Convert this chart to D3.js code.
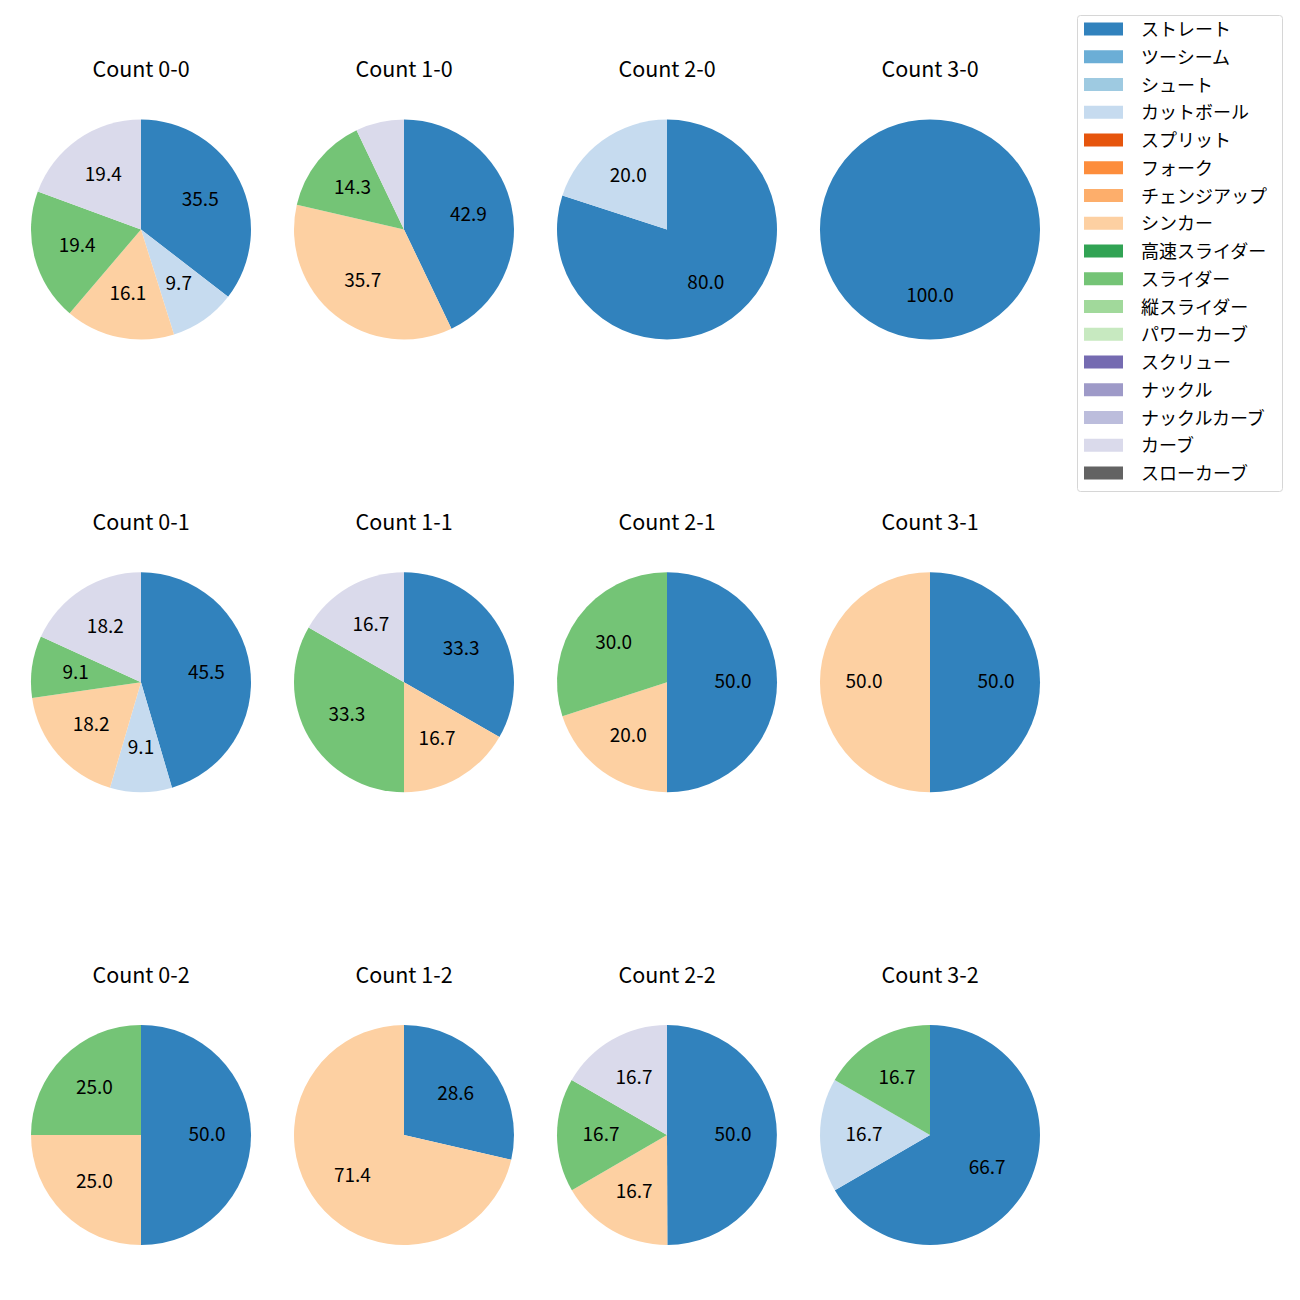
<!DOCTYPE html>
<html>
<head>
<meta charset="utf-8">
<script src="https://cdn.jsdelivr.net/npm/d3@7"></script>
<style>
  html, body { margin: 0; padding: 0; background: #fff; }
  svg text { font-family: "Noto Sans CJK JP", "Noto Sans", sans-serif; }
</style>
</head>
<body>
<svg id="chart" width="1300" height="1300"></svg>
<script>
// Pitch types (legend order) and their colours
const pitchTypes = ["ストレート","ツーシーム","シュート","カットボール","スプリット","フォーク","チェンジアップ","シンカー","高速スライダー","スライダー","縦スライダー","パワーカーブ","スクリュー","ナックル","ナックルカーブ","カーブ","スローカーブ"];
const pitchColors = ["#3182bd","#6baed6","#9ecae1","#c6dbef","#e6550d","#fd8d3c","#fdae6b","#fdd0a2","#31a354","#74c476","#a1d99b","#c7e9c0","#756bb1","#9e9ac8","#bcbddc","#dadaeb","#636363"];

// Ball-strike counts in grid order (row = strikes, col = balls)
const countLabels = ["0-0","1-0","2-0","3-0","0-1","1-1","2-1","3-1","0-2","1-2","2-2","3-2"];

// Percent share per count: [pitch type, percent]
const count00 = [["ストレート",35.5],["カットボール",9.7],["シンカー",16.1],["スライダー",19.4],["カーブ",19.4]];
const count10 = [["ストレート",42.9],["シンカー",35.7],["スライダー",14.3],["カーブ",7.1]];
const count20 = [["ストレート",80.0],["カットボール",20.0]];
const count30 = [["ストレート",100.0]];
const count01 = [["ストレート",45.5],["カットボール",9.1],["シンカー",18.2],["スライダー",9.1],["カーブ",18.2]];
const count11 = [["ストレート",33.3],["シンカー",16.7],["スライダー",33.3],["カーブ",16.7]];
const count21 = [["ストレート",50.0],["シンカー",20.0],["スライダー",30.0]];
const count31 = [["ストレート",50.0],["シンカー",50.0]];
const count02 = [["ストレート",50.0],["シンカー",25.0],["スライダー",25.0]];
const count12 = [["ストレート",28.6],["シンカー",71.4]];
const count22 = [["ストレート",50.0],["シンカー",16.7],["スライダー",16.7],["カーブ",16.7]];
const count32 = [["ストレート",66.7],["カットボール",16.7],["スライダー",16.7]];

const countData = [count00,count10,count20,count30,count01,count11,count21,count31,count02,count12,count22,count32];

const svg = d3.select("#chart");
const color = d3.scaleOrdinal().domain(pitchTypes).range(pitchColors);

const colX = d3.scalePoint().domain([0,1,2,3]).range([141, 930]);
const rowY = d3.scalePoint().domain([0,1,2]).range([229.5, 1135]);
const R = 110;

const pie = d3.pie().sort(null).value(d => d[1]);
const arc = d3.arc().innerRadius(0).outerRadius(R);
const labelArc = d3.arc().innerRadius(R*0.6).outerRadius(R*0.6);

countData.forEach((data, i) => {
  const col = i % 4, row = Math.floor(i / 4);
  const g = svg.append("g").attr("transform", `translate(${colX(col)},${rowY(row)})`);
  const arcs = pie(data);
  g.selectAll("path").data(arcs).enter().append("path")
    .attr("d", arc)
    .attr("fill", d => color(d.data[0]));
  g.selectAll("text.lbl").data(arcs.filter(d => d.data[1] >= 8)).enter().append("text")
    .attr("class","lbl")
    .attr("transform", d => { const c = labelArc.centroid(d); return `translate(${c[0]},${c[1] - 2.5})`; })
    .attr("text-anchor","middle")
    .attr("dominant-baseline","central")
    .attr("font-size", 19)
    .attr("fill","#000")
    .text(d => d.data[1].toFixed(1));
  g.append("text")
    .attr("x", 0).attr("y", -162)
    .attr("text-anchor","middle")
    .attr("dominant-baseline","central")
    .attr("font-size", 21.5)
    .attr("fill","#000")
    .text("Count " + countLabels[i]);
});

// Legend
const lg = svg.append("g");
lg.append("rect")
  .attr("x", 1077.5).attr("y", 15.5).attr("width", 205).attr("height", 476)
  .attr("rx", 3).attr("fill", "#fff").attr("stroke", "#d6d6d6");
const ly = d3.scaleLinear().domain([0, pitchTypes.length - 1]).range([29, 473]);
pitchTypes.forEach((p, i) => {
  lg.append("rect").attr("x", 1084).attr("y", ly(i) - 6.5).attr("width", 39).attr("height", 13)
    .attr("fill", color(p));
  lg.append("text").attr("x", 1141).attr("y", ly(i) - 1)
    .attr("dominant-baseline","central")
    .attr("font-size", 18).attr("fill","#000")
    .text(p);
});
</script>
</body>
</html>
